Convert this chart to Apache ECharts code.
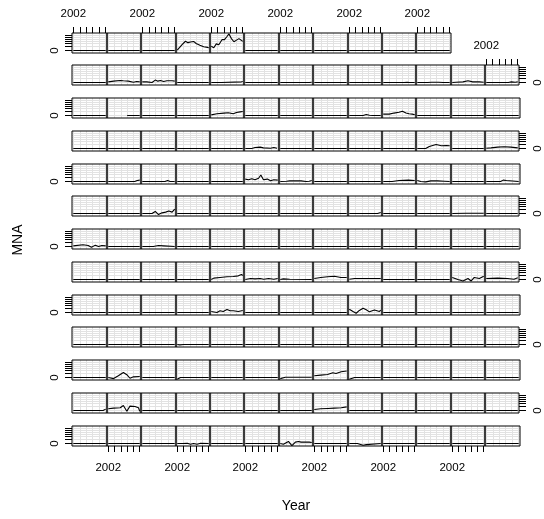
<!DOCTYPE html>
<html><head><meta charset="utf-8">
<script src="https://cdn.jsdelivr.net/npm/echarts@6/dist/echarts.min.js"></script>
<style>html,body{margin:0;padding:0;background:#fff}#c{width:544px;height:519px}</style>
</head><body><div id="c"></div>
<script>
// ---- axis ticks / labels ----
const xTicks = [2002, 2003, 2004, 2005, 2006, 2007];
const xLabels = [2002];
const yTicks = [0, 0.27, 0.39, 0.51, 0.63, 0.75, 0.87];
const yLabels = [0];
const xRange = [2001.8, 2007.2];
const yRange = [-0.14, 1.0];
const xTitle = 'Year';
const yTitle = 'MNA';

// ---- panel data, rows top to bottom, each panel = [[year, value], ...] ----
const flat = [[2002, 0], [2007, 0]];
const row01 = [flat, flat, flat,
  [[2002,0.02],[2002.3,0.06],[2002.8,0.35],[2003.3,0.53],[2003.7,0.45],[2004.1,0.49],[2004.6,0.52],[2005.0,0.40],[2005.6,0.30],[2006.2,0.22],[2006.8,0.18],[2007,0.16]],
  [[2002,0.24],[2002.4,0.16],[2002.8,0.38],[2003.2,0.33],[2003.7,0.62],[2004.1,0.62],[2004.5,0.8],[2004.8,0.95],[2005.2,0.68],[2005.6,0.5],[2005.95,0.58],[2006.4,0.68],[2006.7,0.72],[2007,0.52]],
  flat, flat, flat, flat, flat, flat];
const row02 = [flat,
  [[2002,0.04],[2002.85,0.08],[2003.9,0.12],[2004.4,0.1],[2005.2,0.08],[2006,0.02],[2006.5,0.06],[2007,0.04]],
  [[2002,0.04],[2002.7,0.04],[2003.5,0],[2004,0.14],[2004.4,0.08],[2004.8,0.12],[2005.3,0.06],[2005.8,0.1],[2006.6,0.1],[2007,0.08]],
  [[2002,0],[2005.2,0],[2005.4,0.06],[2005.6,0],[2007,0]],
  [[2002,0],[2003.6,0],[2003.8,0.04],[2006.8,0.04],[2007,0.06]],
  flat,
  [[2002,0],[2006.6,0],[2006.9,0.04],[2007,0.02]],
  flat, flat,
  [[2002,0],[2004.8,0],[2005.05,0.08],[2005.3,0],[2005.8,0.02],[2006.2,0],[2007,0]],
  [[2002,0],[2003.6,0],[2003.85,0.08],[2004.2,0.02],[2004.6,0.02],[2004.9,0.08],[2005.25,0.02],[2006,0],[2007,0]],
  [[2002,0],[2002.6,0.02],[2003.7,0.04],[2004.5,0.1],[2005.25,0.04],[2006.3,0.04],[2007,0.02]],
  [[2002,0],[2005.5,0],[2006,0.04],[2006.6,0.02],[2007,0.04]]];
const row03 = [flat, [[2005,0],[2007,0]], flat, flat,
  [[2002,0.04],[2002.9,0.1],[2004,0.14],[2004.7,0.16],[2005.5,0.1],[2006,0.17],[2006.6,0.21],[2007,0.23]],
  flat, flat, flat,
  [[2002,0],[2004.2,0],[2004.7,0.06],[2005.2,0.02],[2005.7,0],[2007,0]],
  [[2002,0.08],[2002.95,0.08],[2003.7,0.14],[2004.5,0.19],[2005.05,0.25],[2005.6,0.14],[2006.1,0.1],[2006.6,0.08],[2007,0.04]],
  flat, flat, flat];
const row04 = [flat, flat, flat, flat, flat,
  [[2002,0],[2003,0],[2003.5,0.06],[2004.3,0.08],[2004.8,0.04],[2005.9,0.02],[2006.4,0.06],[2006.9,0.02],[2007,0.02]],
  flat, flat, flat, flat,
  [[2002,0],[2003.3,0],[2003.85,0.12],[2004.9,0.23],[2005.7,0.16],[2006.5,0.17],[2007,0.16]],
  flat,
  [[2002,0.02],[2002.75,0.04],[2003.8,0.08],[2004.85,0.1],[2005.9,0.08],[2007,0.04]]];
const row05 = [flat,
  [[2002,0],[2006.2,0],[2006.6,0.06],[2007,0.08]],
  [[2002,0],[2005.5,0],[2005.9,0.06],[2006.3,0],[2007,0]],
  flat, flat,
  [[2002,0.14],[2002.5,0.1],[2003,0.16],[2003.5,0.1],[2004.05,0.19],[2004.4,0.37],[2004.8,0.1],[2005.4,0.14],[2005.9,0.04],[2006.4,0.1],[2007,0.08]],
  [[2002,0],[2003,0.02],[2003.5,0.04],[2005.3,0.04],[2006.1,0],[2006.6,0.02],[2007,0.06]],
  flat, flat,
  [[2002,0],[2003.4,0],[2004.5,0.06],[2006,0.08],[2007,0.06]],
  [[2002,0.06],[2002.55,0],[2003.3,-0.02],[2004.1,0.04],[2005.15,0.04],[2006.2,0.02],[2007,0]],
  [[2002,0],[2004.2,0],[2004.5,0.06],[2004.8,0],[2007,0]],
  [[2002,0],[2004.2,0],[2004.6,0.08],[2005.1,0.06],[2005.4,0],[2007,0]]];
const row06 = [flat, flat,
  [[2002,0],[2003.5,0],[2004,0.12],[2004.5,-0.06],[2005.05,0.04],[2005.6,0.08],[2006.1,0.14],[2006.6,0.08],[2007,0.25]],
  flat, flat, flat,
  [[2002,0],[2006,0],[2006.3,0.08],[2006.6,0],[2007,0]],
  flat,
  [[2002,0],[2006.5,0],[2006.8,0.08],[2007,0.06]],
  flat, flat,
  [[2002,0],[2004.2,0.02],[2004.5,0.1],[2004.8,0.02],[2007,0.02]],
  flat];
const row07 = [
  [[2002,0.04],[2003.5,0.1],[2004.3,0.06],[2004.8,-0.04],[2005.4,0.08],[2005.9,0],[2006.4,0.06],[2007,0.04]],
  flat,
  [[2002,0],[2003.7,0],[2004,-0.04],[2004.5,0.06],[2005.3,0.04],[2005.6,0],[2007,0]],
  flat, flat, flat, flat, flat, flat, flat, flat, flat, flat];
const row08 = [flat, flat, flat, flat,
  [[2002,0],[2002.4,0.08],[2003.4,0.12],[2004.5,0.16],[2005.5,0.17],[2006.3,0.21],[2006.8,0.29],[2007,0.23]],
  [[2002,0],[2002.8,0.06],[2003.5,0.04],[2004.3,0.06],[2004.85,0.02],[2005.6,0.06],[2006.4,0.02],[2007,0.06]],
  [[2002,0],[2002.5,0.04],[2003.5,0.02],[2007,0]],
  [[2002,0.06],[2003,0.12],[2004.05,0.16],[2005.1,0.19],[2006.1,0.12],[2007,0.12]],
  [[2002,0.02],[2002.85,0.06],[2006.5,0.06],[2007,0.06]],
  flat, flat,
  [[2002,0.12],[2002.9,0],[2003.7,-0.08],[2004.5,0.06],[2005,-0.08],[2005.5,0.12],[2006.3,0.06],[2007,0.19]],
  [[2002,0.06],[2003.8,0.08],[2005.4,0.06],[2006.4,0.02],[2007,0.1]]];
const row09 = [flat, flat, flat,
  [[2002,0],[2004.3,0],[2004.6,0.08],[2004.9,0],[2007,0]],
  [[2002,0.06],[2002.9,0],[2003.4,0.1],[2003.9,0.06],[2004.5,0.17],[2005,0.1],[2005.5,0.1],[2006.3,0.06],[2007,0.12]],
  flat, flat, flat,
  [[2002,0.19],[2002.6,0.06],[2003.1,-0.04],[2003.6,0.12],[2004.2,0.25],[2004.7,0.16],[2005.2,0.04],[2006,0.14],[2006.8,0.06],[2007,0.14]],
  flat, flat, flat, flat];
const row10 = [flat, flat, flat,
  [[2002,0],[2002.4,-0.02],[2002.7,-0.04],[2003,0],[2006,0],[2006.3,-0.04],[2006.6,0],[2007,0]],
  flat, flat, flat, flat, flat, flat, flat, flat, flat];
const row11 = [flat,
  [[2002,0],[2002.85,-0.06],[2003.6,0.1],[2004.4,0.29],[2004.95,0.16],[2005.45,-0.04],[2006,0.04],[2007,0.06]],
  flat,
  [[2002,-0.1],[2002.5,0],[2007,0]],
  flat, flat,
  [[2002,-0.06],[2002.3,-0.08],[2002.8,0.02],[2007,0.02]],
  [[2002,0.1],[2003,0.14],[2004.05,0.17],[2004.85,0.27],[2005.35,0.23],[2006.15,0.33],[2007,0.37]],
  [[2002,-0.1],[2002.85,0],[2007,0]],
  flat, flat, flat, flat];
const row12 = [
  [[2002,0],[2006.6,0],[2007,0.08]],
  [[2002,0.1],[2002.85,0.14],[2003.9,0.16],[2004.4,0.29],[2004.95,-0.04],[2005.45,0.25],[2006.25,0.23],[2006.8,0.16],[2007,-0.04]],
  flat, flat, flat, flat, flat,
  [[2002,0.06],[2003,0.1],[2004.05,0.12],[2005.1,0.14],[2006.15,0.16],[2007,0.21]],
  flat, flat, flat, flat, flat];
const row13 = [flat, flat, flat,
  [[2002,0],[2002.8,0],[2003.05,-0.04],[2003.6,0.02],[2004.1,-0.04],[2004.6,0],[2005.15,-0.04],[2005.7,0.02],[2006,0],[2007,0]],
  flat, flat,
  [[2002,0],[2002.5,-0.04],[2003.3,0.12],[2003.85,-0.12],[2004.4,0.08],[2004.9,0.12],[2005.3,0.08],[2006.6,0.08],[2007,0.06]],
  [[2002,0],[2004,0],[2004.3,0.06],[2004.6,0],[2007,0]],
  [[2002,0],[2003.3,0],[2003.6,-0.04],[2004.2,-0.1],[2004.7,-0.06],[2005,0],[2007,0]],
  flat, flat, flat, flat];

const rows = [row01, row02, row03, row04, row05, row06, row07, row08, row09, row10, row11, row12, row13];

// ---- layout ----
const L = 72.3, W = 34.4, T = 32.7, P = 32.75, H = 19.8;
const FONT = 'Liberation Sans, Arial, Helvetica, sans-serif';

const grids = [], xAxes = [], yAxes = [], series = [];
const colTop = c => { for (let r = 0; r < rows.length; r++) if (rows[r].length > c) return r; return 0; };

rows.forEach((row, r) => {
  row.forEach((pts, c) => {
    const i = grids.length;
    const showTop = (c % 2 === 0) && r === colTop(c);
    const showBottom = (c % 2 === 1) && r === rows.length - 1;
    const showLeft = (r % 2 === 0) && c === 0;
    const showRight = (r % 2 === 1) && c === row.length - 1;
    const left = Math.round(L + c * W), right = Math.round(L + (c + 1) * W);
    const top = Math.round(T + r * P), bottom = Math.round(T + r * P + H);
    grids.push({ left: left, top: top, width: right - left, height: bottom - top, show: true, z: 1,
      borderColor: '#000', borderWidth: 1, backgroundColor: 'transparent' });
    xAxes.push({ gridIndex: i, type: 'value', min: xRange[0], max: xRange[1], z: 0,
      position: showBottom ? 'bottom' : 'top',
      axisLine: { show: false, onZero: false },
      axisTick: { show: showTop || showBottom, inside: false, customValues: xTicks, length: 6, lineStyle: { color: '#000', width: 1 } },
      axisLabel: { show: showTop || showBottom, customValues: xLabels, formatter: v => String(v),
        margin: showTop ? 13 : 16, fontSize: 11.5, color: '#000', fontFamily: FONT },
      splitLine: { show: true, lineStyle: { color: '#e2e2e2', width: 1 } } });
    yAxes.push({ gridIndex: i, type: 'value', min: yRange[0], max: yRange[1], z: 0,
      position: showRight ? 'right' : 'left',
      axisLine: { show: false, onZero: false },
      axisTick: { show: showLeft || showRight, inside: false, customValues: yTicks, length: 7, lineStyle: { color: '#000', width: 1 } },
      axisLabel: { show: showLeft || showRight, customValues: yLabels, formatter: v => String(v), rotate: 90,
        margin: showRight ? 13 : 11, fontSize: 11.5, color: '#000', fontFamily: FONT },
      splitLine: { show: true, lineStyle: { color: '#e2e2e2', width: 1 } } });
    series.push({ type: 'line', xAxisIndex: i, yAxisIndex: i, data: pts, showSymbol: false, symbol: 'none', z: 3,
      lineStyle: { color: '#000', width: 1.1 }, silent: true, animation: false, clip: true });
  });
});

const chart = echarts.init(document.getElementById('c'), null, { renderer: 'canvas' });
chart.setOption({
  animation: false,
  backgroundColor: '#fff',
  grid: grids, xAxis: xAxes, yAxis: yAxes, series: series,
  graphic: [
    { type: 'text', x: 296, y: 506, style: { text: xTitle, fontSize: 14, fontFamily: FONT, fill: '#000', align: 'center', verticalAlign: 'middle' } },
    { type: 'text', x: 18, y: 240, rotation: Math.PI / 2, style: { text: yTitle, fontSize: 14, fontFamily: FONT, fill: '#000', align: 'center', verticalAlign: 'middle' } }
  ]
});
</script></body></html>
